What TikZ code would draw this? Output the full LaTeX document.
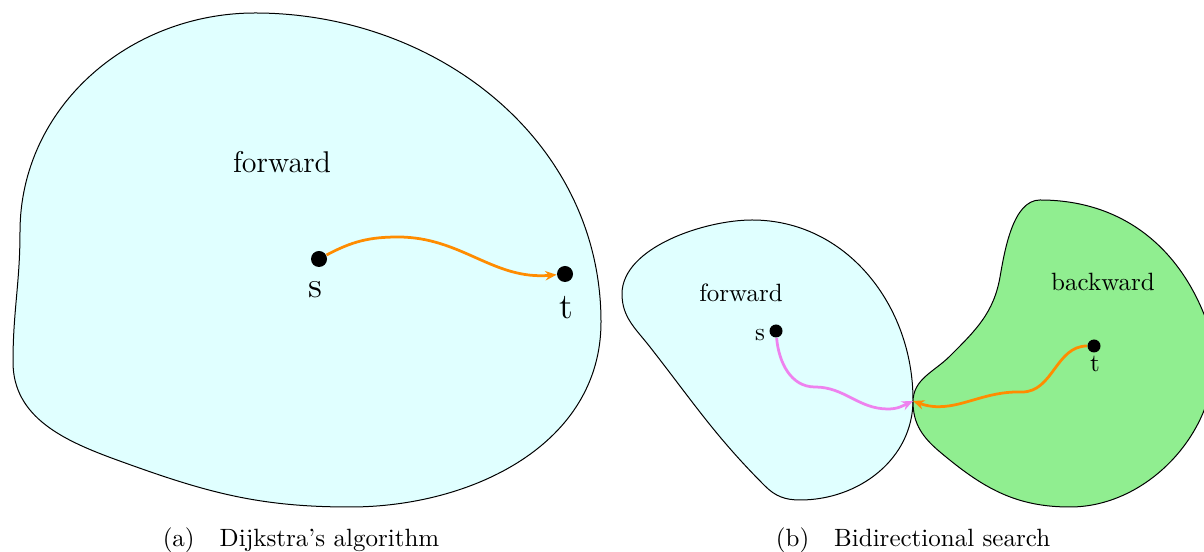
\documentclass[tikz,border=0pt]{standalone}
\usetikzlibrary{arrows.meta}
\definecolor{regionfwd}{RGB}{224,255,255}
\definecolor{regionbwd}{RGB}{144,238,144}
\definecolor{pathorange}{RGB}{255,140,0}
\definecolor{pathviolet}{RGB}{238,130,238}

\begin{document}
\begin{tikzpicture}[x=0.4pt, y=0.4pt, line width=0.4pt,
	    >={Stealth[length=4.5pt,width=3.8pt]},
	    every node/.style={inner sep=0pt},
	    bigdot/.style={circle, fill=black, minimum size=6.4pt},
	    smalldot/.style={circle, fill=black, minimum size=5.2pt},
	    route/.style={line width=1.1pt, ->}]
	    \useasboundingbox (0,0) rectangle (1204,552);
	    \filldraw[fill=regionfwd] (255,539) to[out=0,in=90] (601,230)
	      to[out=-90,in=0] (350,45) to[out=180,in=-20] (117,92)
	      to[out=160,in=-90] (13,190) to[out=90,in=-90] (20,320)
	      to[out=90,in=180] cycle;
	    \filldraw[fill=regionfwd] (752,332) to[out=0,in=90] (913,152)
	      to[out=-90,in=0] (800,52) to[out=180,in=-45] (765,66)
	      to[out=135,in=-52] (650,205) to[out=128,in=-90] (622,258)
	      to[out=90,in=180,looseness=0.8] cycle;
	    \filldraw[fill=regionbwd] (913,150) to[out=90,in=-135] (950,196)
	      to[out=45,in=-100] (1000,275) to[out=80,in=180,looseness=0.8] (1040,352)
	      to[out=0,in=110] (1207,230) to[out=-70,in=0] (1070,45)
	      to[out=180,in=-40] (940,100) to[out=140,in=-90] cycle;
	    \node (forwardA) at (282,390) {\large forward};
	    \node[bigdot] (s) at (319,293) {};
	    \node[bigdot] (t) at (565,278) {};
	    \node (sLabel) at (315,262) {\Large s};
	    \node (tLabel) at (566,244) {\Large t};
	    \node (forwardB) at (741,259) {forward};
	    \node (backward) at (1103,270) {backward};
	    \node[smalldot] (s2) at (776,221) {};
	    \node[smalldot] (t2) at (1094,206) {};
	    \node (s2Label) at (760,217) {s};
	    \node (t2Label) at (1095,188) {t};
	    \coordinate (meet) at (913,151);
	    \draw[route, pathorange] (s) to[out=28,in=180] (398,315)
	      to[out=0,in=185] (t);
	    \draw[route, pathviolet] (s2) to[out=-85,in=180] (815,165)
	      to[out=0,in=180] (888,143) to[out=0,in=205] (meet);
	    \draw[route, pathorange] (t2) to[out=180,in=0] (1022,160)
	      to[out=178,in=-20] (meet);
	    \node (captionA) at (301,12) {(a)\quad Dijkstra's algorithm};
	    \node (captionB) at (913,12) {(b)\quad Bidirectional search};
	  \end{tikzpicture}
\end{document}
